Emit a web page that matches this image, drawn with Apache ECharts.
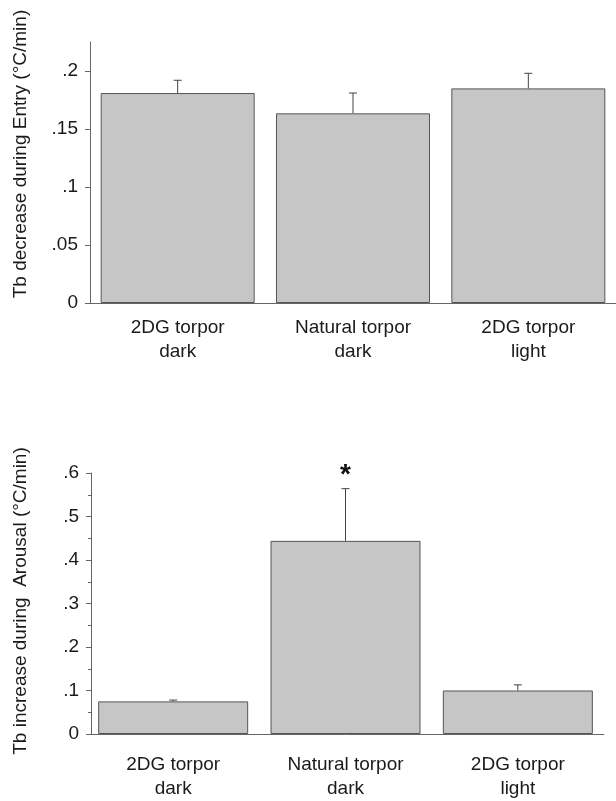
<!doctype html>
<html>
<head>
<meta charset="UTF-8">
<title>Tb entry / arousal rates</title>
<script src="https://cdn.jsdelivr.net/npm/echarts@6/dist/echarts.min.js"></script>
<style>
  html, body { margin: 0; padding: 0; background: #fff; }
  #main { width: 616px; height: 801px; }
</style>
</head>
<body>
<div id="main"></div>
<script>
// groups (same on both panels)
var categories = ['2DG torpor\ndark', 'Natural torpor\ndark', '2DG torpor\nlight'];

// top panel: Tb decrease during entry (°C/min), mean and SE
var entryMean = [0.181, 0.1635, 0.185];
var entrySE = [0.011, 0.0175, 0.013];
var entryTicks = [0, 0.05, 0.1, 0.15, 0.2];

// bottom panel: Tb increase during arousal (°C/min), mean and SE
var arousalMean = [0.075, 0.444, 0.100];
var arousalSE = [0.003, 0.12, 0.013];
var arousalMarks = ['', '*', ''];
var arousalTicks = [0, 0.1, 0.2, 0.3, 0.4, 0.5, 0.6];

var FONT = 'Liberation Sans, Arial, sans-serif';
var AXIS_COLOR = '#666';
var BAR_FILL = '#c6c6c6';
var BAR_EDGE = '#555';

function tickFmt(v) {
    if (v === 0) return '0';
    return String(+v.toFixed(3)).replace(/^0/, '');
}

function errSeries(means, errs, marks, idx) {
    var data = [];
    for (var i = 0; i < means.length; i++) {
        data.push([i, means[i], means[i] + errs[i]]);
    }
    return {
        type: 'custom',
        xAxisIndex: idx,
        yAxisIndex: idx,
        z: 10,
        silent: true,
        data: data,
        renderItem: function (params, api) {
            var i = api.value(0);
            var base = api.coord([i, api.value(1)]);
            var top = api.coord([i, api.value(2)]);
            var kids = [
                { type: 'line', shape: { x1: base[0], y1: base[1], x2: top[0], y2: top[1] },
                  style: { stroke: '#444', lineWidth: 1 } },
                { type: 'line', shape: { x1: top[0] - 4, y1: top[1], x2: top[0] + 4, y2: top[1] },
                  style: { stroke: '#444', lineWidth: 1 } }
            ];
            var m = marks ? marks[params.dataIndex] : '';
            if (m) {
                kids.push({ type: 'text', x: top[0], y: top[1] - 13,
                    style: { text: m, fontSize: 28, fontWeight: 'bold', fontFamily: FONT, fill: '#111',
                             textAlign: 'center', textVerticalAlign: 'middle' } });
            }
            return { type: 'group', children: kids };
        }
    };
}

function xAx(idx, margin) {
    return {
        type: 'category',
        gridIndex: idx,
        data: categories,
        axisLine: { lineStyle: { color: AXIS_COLOR, width: 1 } },
        axisTick: { alignWithLabel: true, length: 4, lineStyle: { color: AXIS_COLOR } },
        axisLabel: { fontSize: 19, fontFamily: FONT, color: '#1a1a1a', lineHeight: 24, margin: margin }
    };
}

function yAx(idx, max, ticks, minor, offset) {
    return {
        type: 'value',
        gridIndex: idx,
        min: 0,
        max: max,
        offset: offset,
        interval: minor ? 0.1 : null,
        axisLine: { show: true, lineStyle: { color: AXIS_COLOR, width: 1 } },
        axisTick: { show: true, length: 5, lineStyle: { color: AXIS_COLOR }, customValues: ticks },
        minorTick: { show: !!minor, splitNumber: 2, length: 3, lineStyle: { color: AXIS_COLOR } },
        axisLabel: { fontSize: 19, fontFamily: FONT, color: '#1a1a1a', margin: 12,
                     customValues: ticks, formatter: tickFmt },
        splitLine: { show: false }
    };
}

var chart = echarts.init(document.getElementById('main'));
chart.setOption({
    backgroundColor: '#fff',
    animation: false,
    grid: [
        { left: 90, top: 42, width: 531, height: 261 },
        { left: 87, top: 473, width: 517, height: 263 }
    ],
    xAxis: [xAx(0, 13), xAx(1, 19)],
    yAxis: [yAx(0, 0.225, entryTicks, false, 0), yAx(1, 0.6, arousalTicks, true, -4)],
    graphic: [
        { type: 'text', x: 21, y: 154, rotation: Math.PI / 2,
          style: { text: 'Tb decrease during Entry (°C/min)', fontSize: 19, fontFamily: FONT,
                   fill: '#1a1a1a', textAlign: 'center', textVerticalAlign: 'middle' } },
        { type: 'text', x: 21, y: 601, rotation: Math.PI / 2,
          style: { text: 'Tb increase during  Arousal (°C/min)', fontSize: 19, fontFamily: FONT,
                   fill: '#1a1a1a', textAlign: 'center', textVerticalAlign: 'middle' } }
    ],
    series: [
        { type: 'bar', xAxisIndex: 0, yAxisIndex: 0, data: entryMean, barWidth: 154,
          itemStyle: { color: BAR_FILL, borderColor: BAR_EDGE, borderWidth: 1 } },
        errSeries(entryMean, entrySE, null, 0),
        { type: 'bar', xAxisIndex: 1, yAxisIndex: 1, data: arousalMean, barWidth: 150,
          itemStyle: { color: BAR_FILL, borderColor: BAR_EDGE, borderWidth: 1 } },
        errSeries(arousalMean, arousalSE, arousalMarks, 1)
    ]
});
</script>
</body>
</html>
